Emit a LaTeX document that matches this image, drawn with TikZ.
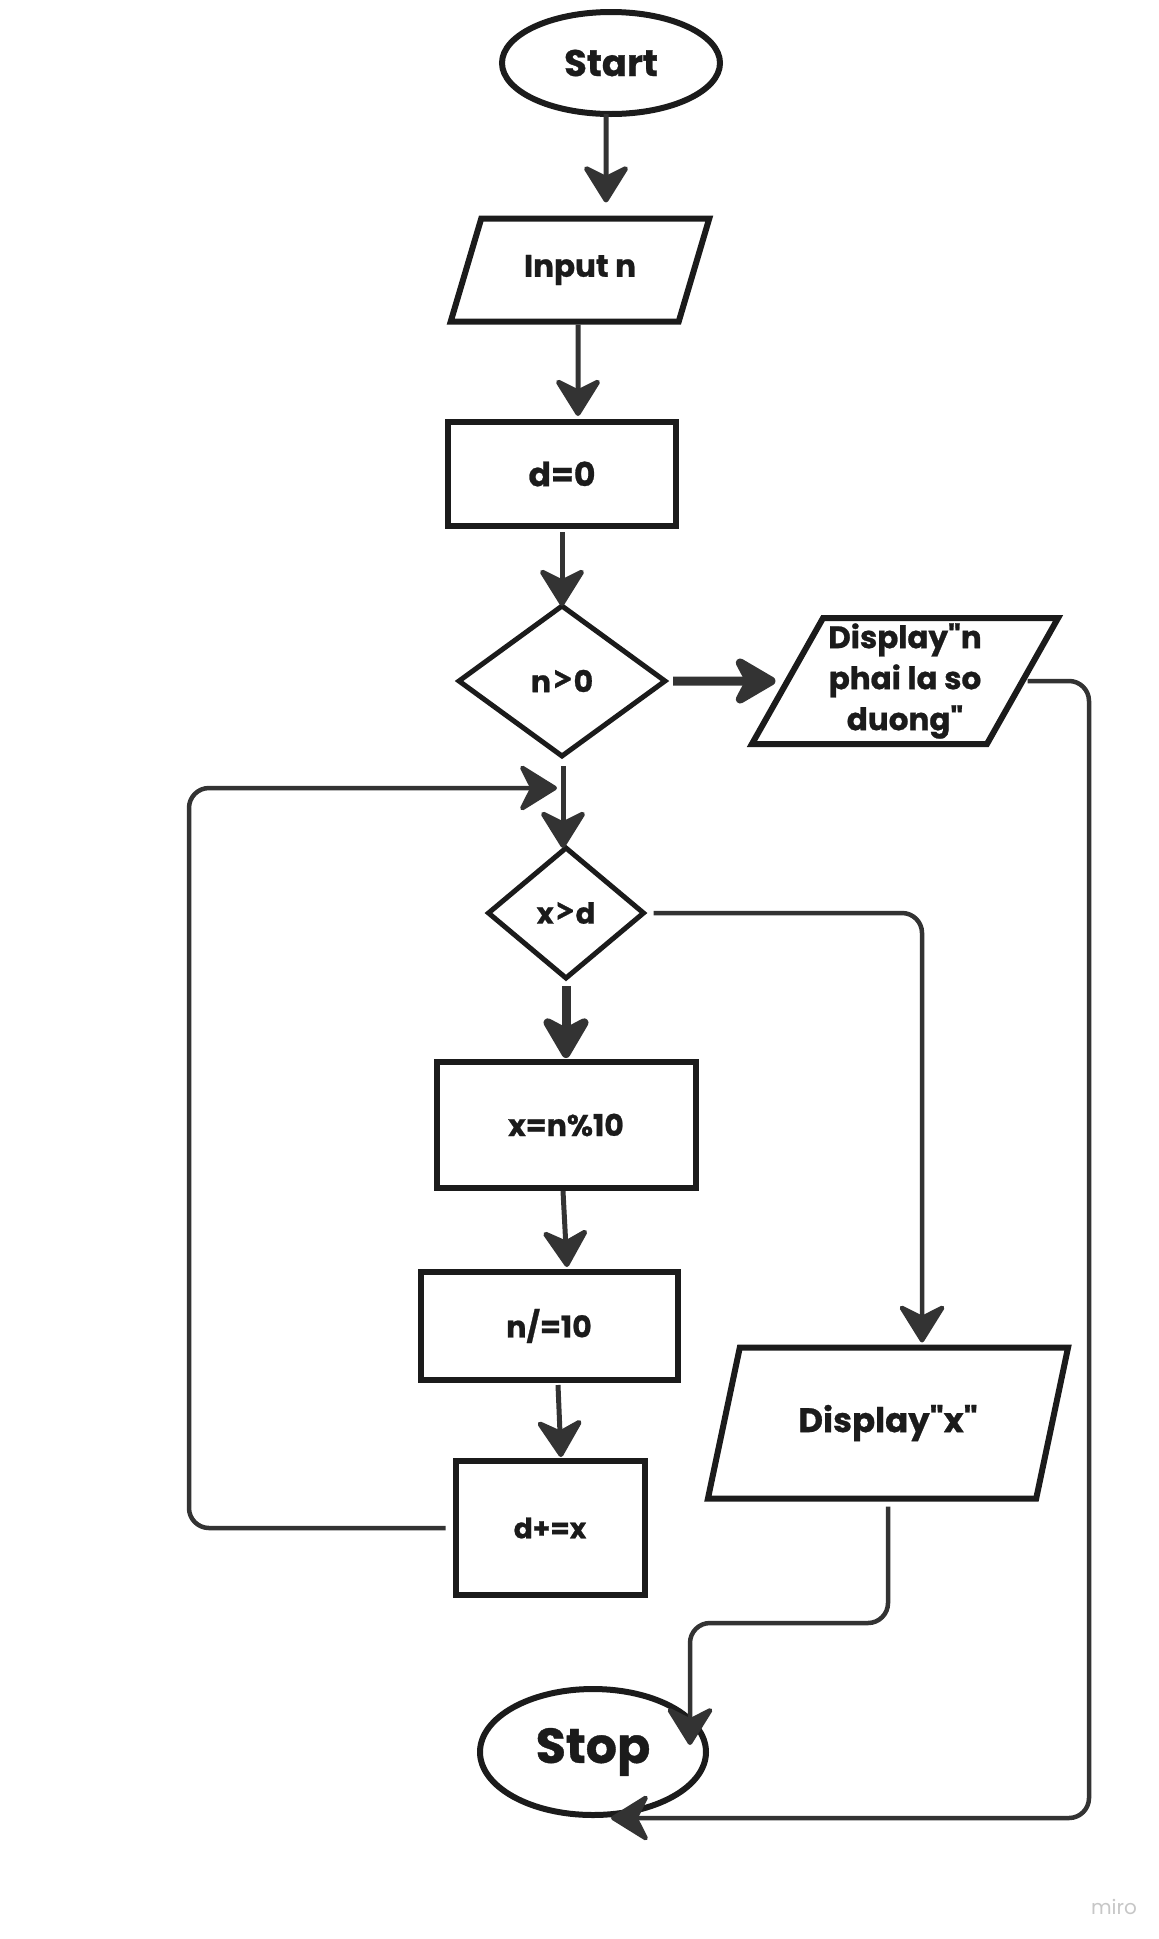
\documentclass[tikz,border=0pt]{standalone}
\usepackage{fontspec}
\usepackage{graphicx}
\setmainfont{Poppins}[Ligatures=TeXOff,BoldFeatures={FakeBold=0.8}]
\newfontfamily\relfont{Lato}[BoldFeatures={FakeBold=0.8}]
\newcommand\gtsign{{\relfont\bfseries\scalebox{1.3}{>}}}
\usetikzlibrary{shapes.geometric,arrows.meta,calc}
\definecolor{ink}{HTML}{1B1B1B}
\definecolor{wire}{HTML}{333333}
\begin{document}
\begin{tikzpicture}[x=1pt,y=-1pt,
  box/.style={draw=ink,line width=6pt,text=ink,inner sep=0pt,outer sep=0pt,font=\bfseries},
  term/.style={box,ellipse},
  proc/.style={box,rectangle},
  dec/.style={box,diamond,line width=5pt},
  io/.style={box,trapezium,trapezium stretches=true,trapezium left angle=60,trapezium right angle=120},
  arr/.style={draw=wire,line width=5pt,-{Stealth[length=42pt,width=52pt,inset=13pt,round]}},
  bigarr/.style={draw=wire,line width=9pt,-{Stealth[length=50pt,width=58pt,inset=15pt,round]}},
  fs/.style={font=\bfseries\fontsize{#1pt}{#1pt}\selectfont}
]
\useasboundingbox[fill=white] (0,0) rectangle (1159,1939);

% shapes of the flow
\node[term,minimum width=218,minimum height=102,fs=37] (start) at (611,63) {Start};
\node[io,minimum width=259,minimum height=103,fs=31] (input) at (580,270) {Input n};
\node[proc,minimum width=228,minimum height=104,fs=33] (d0) at (562,474) {d=0};
\node[dec,minimum width=206,minimum height=150,fs=30] (npos) at (562,681) {n\gtsign0};
\node[io,minimum width=307,minimum height=126,align=center,font=\bfseries\fontsize{31pt}{41pt}\selectfont] (warn) at (905,681) {Display"n\\phai la so\\duong"};
\node[dec,minimum width=155,minimum height=130,fs=29] (xd) at (566,913) {x\gtsign d};
\node[proc,minimum width=259,minimum height=126,fs=30] (mod) at (566,1125) {x=n\%10};
\node[proc,minimum width=257,minimum height=108,fs=30] (div) at (549,1326) {n/=10};
\node[proc,minimum width=189,minimum height=134,fs=28] (acc) at (550,1528) {d+=x};
\node[io,trapezium left angle=62,trapezium right angle=118,minimum width=361,minimum height=151,fs=34] (show) at (888,1423) {Display"x"};
\node[term,minimum width=226,minimum height=126,fs=49] (stop) at (593,1752) {Stop};

\node[text=black!22,font=\fontsize{20pt}{24pt}\selectfont] (wm) at (1114,1907) {miro};

% bend points of the long connectors
\coordinate (rcor) at (1089,1818);
\coordinate (lcor) at (189,788);
\coordinate (loopin) at (557,788);
\coordinate (dropc) at (690,1623);

% straight connectors
\draw[arr] ([xshift=-5pt]start.south) -- ([xshift=26pt,yshift=16pt]input.north);
\draw[arr] ([xshift=-2pt,yshift=-3pt]input.south) -- ([xshift=16pt,yshift=6pt]d0.north);
\draw[arr] ([yshift=-6pt]d0.south) -- (npos.north);
\draw[bigarr] ([xshift=8pt]npos.east) -- ([xshift=-12pt]warn.west);
\draw[arr] ([xshift=1pt,yshift=-10pt]npos.south) -- ([xshift=-3pt]xd.north);
\draw[bigarr] ([yshift=-8pt]xd.south) -- ([yshift=4pt]mod.north);
\draw[arr] ([xshift=-3pt,yshift=-3pt]mod.south) -- ([xshift=18pt,yshift=5pt]div.north);
\draw[arr] ([xshift=9pt,yshift=-5pt]div.south) -- ([xshift=11pt,yshift=4pt]acc.north);

% routed connectors
\draw[arr,line width=4.5pt,rounded corners=20pt] ([xshift=5pt]warn.east) -| (rcor) -- ([xshift=18pt,yshift=-3pt]stop.south);
\draw[arr,line width=4.5pt,rounded corners=20pt] ([xshift=-10pt]acc.west) -| (lcor) -- (loopin);
\draw[arr,line width=4.5pt,rounded corners=20pt] ([xshift=10pt]xd.east) -| ([xshift=34pt,yshift=5pt]show.north);
\draw[arr,line width=4.5pt,rounded corners=20pt] ([yshift=-8pt]show.south) |- (dropc) -- ([xshift=-16pt,yshift=7pt]stop.east);
\end{tikzpicture}
\end{document}
